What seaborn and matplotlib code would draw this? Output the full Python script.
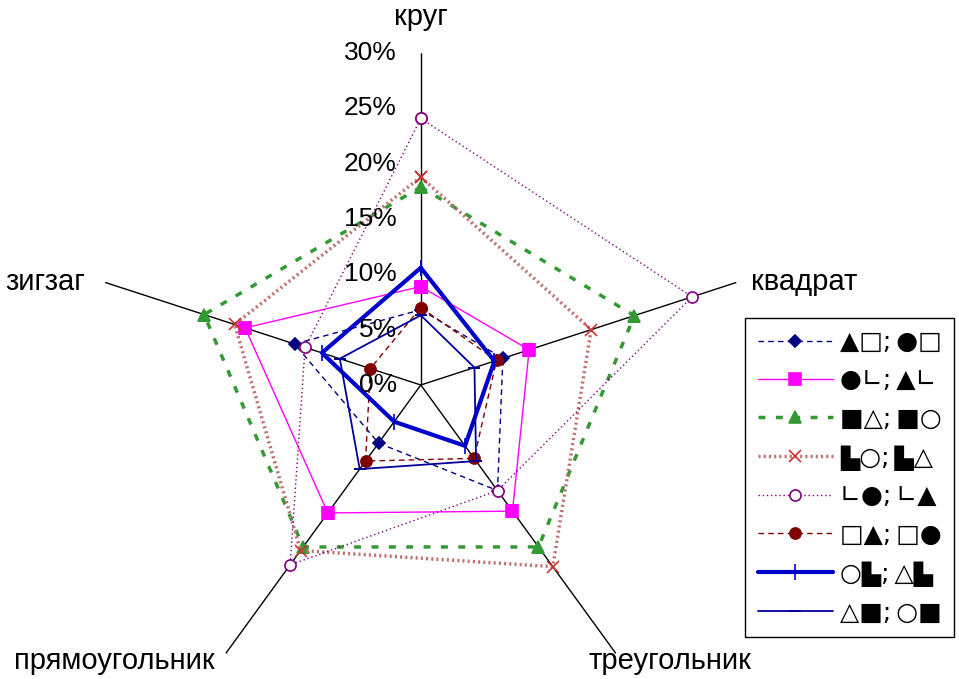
import numpy as np
import matplotlib
matplotlib.use("Agg")
import matplotlib.pyplot as plt
import seaborn as sns

# axes of the radar chart (clockwise from the top)
categories = ["круг", "квадрат", "треугольник", "прямоугольник", "зигзаг"]

# values in percent, same order as categories
s1 = [6.8, 7.8, 11.8, 6.5, 12.0]
s2 = [8.9, 10.3, 14.1, 14.3, 16.7]
s3 = [17.9, 20.3, 18.1, 18.1, 20.6]
s4 = [18.8, 16.2, 20.3, 18.5, 17.7]
s5 = [24.1, 25.8, 11.8, 20.1, 11.0]
s6 = [7.0, 7.2, 8.2, 8.5, 4.8]
s7 = [10.6, 7.0, 6.8, 4.1, 9.4]
s8 = [6.3, 5.1, 8.5, 9.4, 7.7]

labels = ["▲□;\u2009●□", "●∟;\u2009▲∟", "■△;\u2009■○", "▙○;\u2009▙△",
          "∟●;\u2009∟▲", "□▲;\u2009□●", "○▙;\u2009△▙", "△■;\u2009○■"]

r_ticks = [0, 5, 10, 15, 20, 25, 30]

sns.set_style("white")
plt.rcParams["font.family"] = ["Liberation Sans", "DejaVu Sans"]
plt.rcParams["text.color"] = "black"

fig = plt.figure(figsize=(9.59, 6.79), dpi=100)
ax = fig.add_axes([0.0928, -0.056, 0.692, 0.978], projection="polar")
ax.set_theta_offset(np.pi / 2)
ax.set_theta_direction(-1)

theta = np.linspace(0, 2 * np.pi, len(categories), endpoint=False)
theta_c = np.append(theta, theta[0] + 2 * np.pi)

def close(v):
    v = np.array(v) / 100.0
    return np.append(v, v[0])

styles = [
    dict(color="#000080", lw=1, ls=(0, (4, 3)), marker="D", ms=6, mfc="#000080", mec="#000080"),
    dict(color="#FF00FF", lw=1, ls="-", marker="s", ms=8, mfc="#FF00FF", mec="#FF00FF"),
    dict(color="#339933", lw=2.5, ls=(0, (2, 3)), marker="^", ms=9, mfc="#339933", mec="#339933"),
    dict(color="#C07070", lw=2.5, ls=(0, (0.6, 0.9)), marker="x", ms=8, mfc="#CC3333", mec="#CC3333"),
    dict(color="#800080", lw=1, ls=(0, (1, 2)), marker="o", ms=8, mfc="white", mec="#800080"),
    dict(color="#800000", lw=1, ls=(0, (4, 3)), marker="o", ms=8, mfc="#800000", mec="#800000"),
    dict(color="#0000CC", lw=3, ls="-", marker="|", ms=12, mfc="#0000CC", mec="#0000CC"),
    dict(color="#000099", lw=1.3, ls="-", marker="_", ms=8, mfc="#000099", mec="#000099"),
]

for vals, lab, st in zip([s1, s2, s3, s4, s5, s6, s7, s8], labels, styles):
    sns.lineplot(x=theta_c, y=close(vals), ax=ax, sort=False, label=lab,
                 color=st["color"], linewidth=st["lw"], linestyle=st["ls"],
                 marker=st["marker"], markersize=st["ms"],
                 markerfacecolor=st["mfc"], markeredgecolor=st["mec"],
                 markeredgewidth=1.2)

ax.set_ylim(0, 0.30)
ax.set_xticks(theta)
ax.set_xticklabels([])
ax.set_yticks([])
ax.xaxis.grid(True, color="black", linewidth=1)
ax.yaxis.grid(False)
ax.spines["polar"].set_visible(False)
ax.set_facecolor("none")

# radial tick labels to the left of the top axis
for t in r_ticks:
    ax.annotate(f"{t}%", xy=(0, t / 100.0), xytext=(-24, 0), textcoords="offset pixels",
                ha="right", va="center", fontsize=19, color="black")

# category labels
offsets = [(0, 36, "center"), (15, 0, "left"), (54, -8, "center"),
           (-111, -8, "center"), (-20, 0, "right")]
for th, name, (dx, dy, ha) in zip(theta, categories, offsets):
    ax.annotate(name, xy=(th, 0.30), xytext=(dx, dy), textcoords="offset pixels",
                ha=ha, va="center", fontsize=21, color="black", annotation_clip=False)

leg = ax.legend(loc="upper left", bbox_to_anchor=(0.777, 0.532), bbox_transform=fig.transFigure,
                prop={"family": "DejaVu Sans", "size": 18}, frameon=True, fancybox=False,
                edgecolor="black", framealpha=1, borderaxespad=0, borderpad=0.5,
                labelspacing=0.57, handlelength=3.0, handletextpad=0.3)
leg.get_frame().set_linewidth(1)
for txt in leg.get_texts():
    txt.set_color("black")

fig.savefig("out.png", dpi=100)
